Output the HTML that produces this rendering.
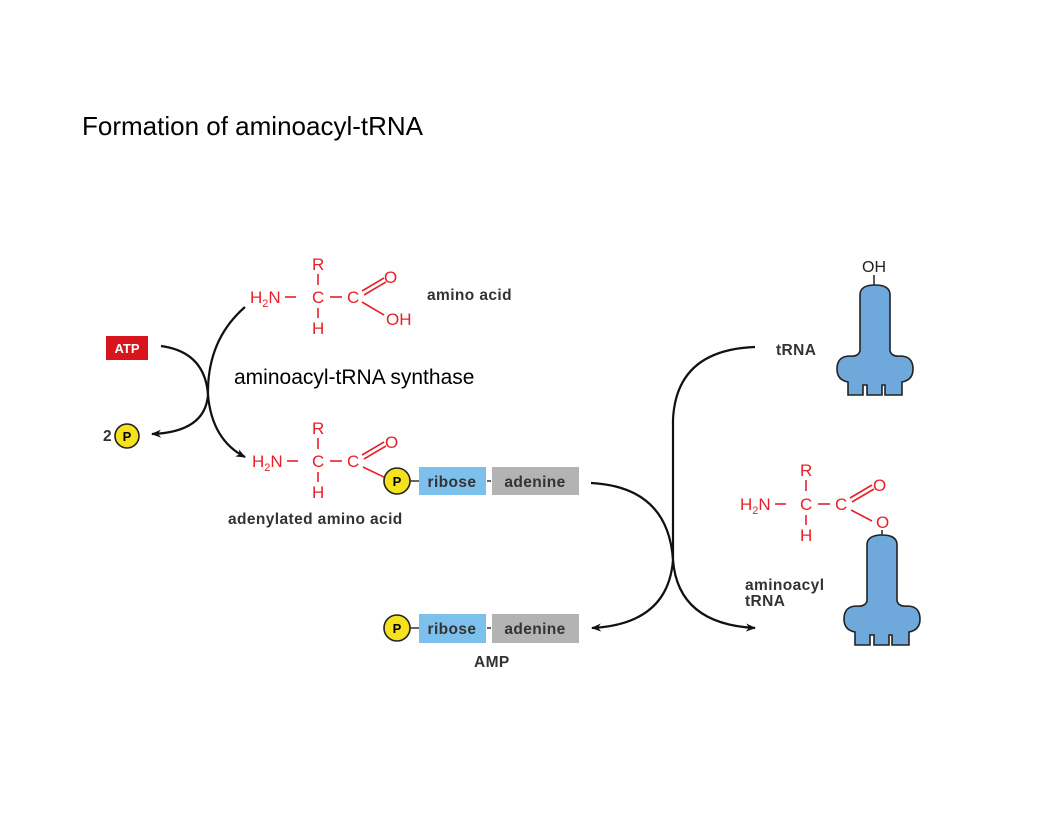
<!DOCTYPE html>
<html><head><meta charset="utf-8"><style>
html,body{margin:0;padding:0;background:#fff;}
svg{display:block;}
.r{fill:#e8202a;font-family:"Liberation Sans",sans-serif;font-size:17px;}
.g{fill:#333;font-family:"Liberation Sans",sans-serif;font-size:15.5px;font-weight:bold;letter-spacing:0.4px;}
.rl{stroke:#e8202a;stroke-width:1.6;fill:none;}
.k{stroke:#111;stroke-width:2.2;fill:none;}
</style></head><body>
<svg width="1056" height="816" viewBox="0 0 1056 816" xmlns="http://www.w3.org/2000/svg">
<defs>
<marker id="a" markerWidth="10" markerHeight="8" refX="9" refY="4" orient="auto" markerUnits="userSpaceOnUse">
<path d="M0,0 L10,4 L0,8 L3,4 Z" fill="#111"/></marker>
<path id="trna" d="M0,10 Q0,0 15,0 Q30,0 30,10 L30,66 Q32,72 40,71 Q53,71 53,84 Q53,95 42,97 L42,110 L25,110 L25,100 L22,100 L22,110 L7,110 L7,100 L3,100 L3,110 L-12,110 L-12,97 Q-23,95 -23,84 Q-23,71 -10,71 Q-2,72 0,66 Z" fill="#6fa9dc" stroke="#222" stroke-width="1.6"/>
</defs>
<text x="82" y="135" font-family="Liberation Sans, sans-serif" font-size="26" fill="#000">Formation of aminoacyl-tRNA</text>

<g>
<text class="r" x="312" y="270">R</text>
<line class="rl" x1="318" y1="274" x2="318" y2="285"/>
<text class="r" x="250" y="303">H<tspan font-size="11" dy="4">2</tspan><tspan dy="-4">N</tspan></text>
<line class="rl" x1="285" y1="297" x2="296" y2="297"/>
<text class="r" x="312" y="303">C</text>
<line class="rl" x1="330" y1="297" x2="342" y2="297"/>
<text class="r" x="347" y="303">C</text>
<line class="rl" x1="362" y1="291" x2="384" y2="278"/><line class="rl" x1="364" y1="295" x2="386" y2="282"/>
<text class="r" x="384" y="283">O</text>
<line class="rl" x1="362" y1="302" x2="384" y2="315"/>
<text class="r" x="386" y="325">OH</text>
<line class="rl" x1="318" y1="308" x2="318" y2="318"/>
<text class="r" x="312" y="334">H</text>
<text class="g" x="427" y="300">amino acid</text>
</g>

<rect x="106" y="336" width="42" height="24" fill="#d8141c"/>
<text x="127" y="353" text-anchor="middle" fill="#fff" font-family="Liberation Sans,sans-serif" font-weight="bold" font-size="13">ATP</text>
<path class="k" d="M161,346 Q205,352 208,395 Q205,432 152,434" marker-end="url(#a)"/>
<path class="k" d="M245,307 Q207,340 208,395 Q212,440 245,457" marker-end="url(#a)"/>
<text class="g" x="103" y="441">2</text>
<circle cx="127" cy="436" r="12" fill="#f5e21c" stroke="#222" stroke-width="1.6"/>
<text x="127" y="441" text-anchor="middle" font-family="Liberation Sans,sans-serif" font-weight="bold" font-size="13">P</text>

<text x="234" y="384" font-family="Liberation Sans, sans-serif" font-size="21" fill="#000">aminoacyl-tRNA synthase</text>

<g>
<text class="r" x="312" y="434">R</text>
<line class="rl" x1="318" y1="438" x2="318" y2="449"/>
<text class="r" x="252" y="467">H<tspan font-size="11" dy="4">2</tspan><tspan dy="-4">N</tspan></text>
<line class="rl" x1="287" y1="461" x2="298" y2="461"/>
<text class="r" x="312" y="467">C</text>
<line class="rl" x1="330" y1="461" x2="342" y2="461"/>
<text class="r" x="347" y="467">C</text>
<line class="rl" x1="362" y1="455" x2="384" y2="442"/><line class="rl" x1="364" y1="459" x2="386" y2="446"/>
<text class="r" x="385" y="448">O</text>
<line class="rl" x1="363" y1="467" x2="386" y2="478"/>
<line class="rl" x1="318" y1="472" x2="318" y2="482"/>
<text class="r" x="312" y="498">H</text>
<circle cx="397" cy="481" r="13" fill="#f5e21c" stroke="#222" stroke-width="1.6"/>
<text x="397" y="486" text-anchor="middle" font-family="Liberation Sans,sans-serif" font-weight="bold" font-size="13">P</text>
<line x1="410" y1="481" x2="419" y2="481" stroke="#333" stroke-width="1.5"/>
<rect x="419" y="467" width="67" height="28" fill="#7ec0ec"/>
<text class="g" x="452" y="487" text-anchor="middle" font-size="16">ribose</text>
<line x1="487" y1="481" x2="491" y2="481" stroke="#333" stroke-width="1.5"/>
<rect x="492" y="467" width="87" height="28" fill="#b3b3b3"/>
<text class="g" x="535" y="487" text-anchor="middle" font-size="16">adenine</text>
<text class="g" x="228" y="524">adenylated amino acid</text>
</g>

<path class="k" d="M591,483 Q668,487 673,560 Q668,624 592,628" marker-end="url(#a)"/>
<path class="k" d="M755,347 Q676,350 673,420 L673,560 Q678,624 755,628" marker-end="url(#a)"/>

<circle cx="397" cy="628" r="13" fill="#f5e21c" stroke="#222" stroke-width="1.6"/>
<text x="397" y="633" text-anchor="middle" font-family="Liberation Sans,sans-serif" font-weight="bold" font-size="13">P</text>
<line x1="410" y1="628" x2="419" y2="628" stroke="#333" stroke-width="1.5"/>
<rect x="419" y="614" width="67" height="29" fill="#7ec0ec"/>
<text class="g" x="452" y="634" text-anchor="middle" font-size="16">ribose</text>
<line x1="487" y1="628" x2="491" y2="628" stroke="#333" stroke-width="1.5"/>
<rect x="492" y="614" width="87" height="29" fill="#b3b3b3"/>
<text class="g" x="535" y="634" text-anchor="middle" font-size="16">adenine</text>
<text class="g" x="474" y="667">AMP</text>

<text x="874" y="272" text-anchor="middle" font-family="Liberation Sans,sans-serif" font-size="16" fill="#222">OH</text>
<line x1="874" y1="275" x2="874" y2="285" stroke="#222" stroke-width="1.5"/>
<use href="#trna" x="860" y="285"/>
<text class="g" x="776" y="355">tRNA</text>

<g>
<text class="r" x="800" y="476">R</text>
<line class="rl" x1="806" y1="480" x2="806" y2="491"/>
<text class="r" x="740" y="510">H<tspan font-size="11" dy="4">2</tspan><tspan dy="-4">N</tspan></text>
<line class="rl" x1="775" y1="504" x2="786" y2="504"/>
<text class="r" x="800" y="510">C</text>
<line class="rl" x1="818" y1="504" x2="830" y2="504"/>
<text class="r" x="835" y="510">C</text>
<line class="rl" x1="850" y1="498" x2="872" y2="485"/><line class="rl" x1="852" y1="502" x2="874" y2="489"/>
<text class="r" x="873" y="491">O</text>
<line class="rl" x1="851" y1="510" x2="872" y2="521"/>
<text class="r" x="876" y="528" font-size="15">O</text>
<line class="rl" x1="806" y1="515" x2="806" y2="525"/>
<text class="r" x="800" y="541">H</text>
<line x1="882" y1="530" x2="882" y2="535" stroke="#222" stroke-width="1.5"/>
<use href="#trna" x="867" y="535"/>
<text class="g" x="745" y="590">aminoacyl</text>
<text class="g" x="745" y="606">tRNA</text>
</g>
</svg>
</body></html>
